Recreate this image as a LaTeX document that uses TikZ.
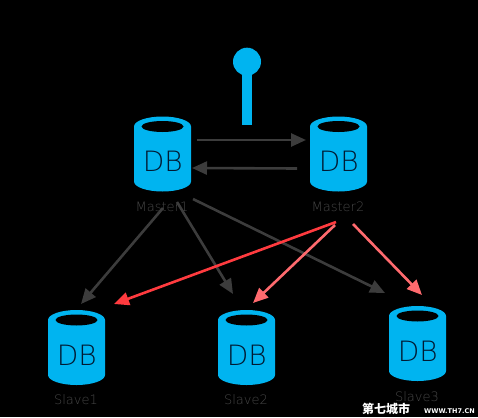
\documentclass[tikz,border=0pt]{standalone}
\usepackage{fontspec}
\setmainfont{DejaVu Sans}
\newfontfamily\cjkwm{Noto Sans CJK SC}
\newfontfamily\wmlatin{DejaVu Sans}
\newfontfamily\dbfont{DejaVu Sans ExtraLight}
\usetikzlibrary{arrows.meta}
\definecolor{dbblue}{HTML}{00B4F0}
\definecolor{dbtext}{HTML}{001A33}
\definecolor{linkgray}{HTML}{3C3C3C}
\definecolor{labelgray}{HTML}{464646}
\definecolor{redstrong}{HTML}{FF3B3F}
\definecolor{redsoft}{HTML}{FF6A6E}
\tikzset{
  x=1pt,y=-1pt,
  dbshape/.style={minimum width=57pt,minimum height=75pt,inner sep=0pt},
  dbword/.style={text=dbtext,font=\dbfont\fontsize{28}{28}\selectfont,inner sep=0pt},
  dblabel/.style={text=labelgray,font=\dbfont\fontsize{13}{13}\selectfont,inner sep=0pt},
  link/.style={draw=linkgray,line width=2.6pt,-{Triangle[length=15pt,width=13pt]}},
  linkred/.style={draw=redstrong,line width=2.6pt,-{Triangle[length=15pt,width=13pt]}},
  linksoft/.style={draw=redsoft,line width=2.6pt,-{Triangle[length=15pt,width=13pt]}},
}
% #1 = name, #2 = centre x, #3 = centre y
\newcommand{\dbcyl}[3]{%
  \fill[dbblue] (#2-28.5,#3-27.5) arc[start angle=180,end angle=360,x radius=28.5,y radius=10]
     -- (#2+28.5,#3+27.5) arc[start angle=0,end angle=180,x radius=28.5,y radius=10] -- cycle;
  \fill[black] (#2,#3-27.5) ellipse[x radius=21,y radius=5.5];
  \node[dbshape] (#1) at (#2,#3) {};
  \node[dbword] (#1t) at (#2+0.3,#3+7.5) {DB};
}
\begin{document}
\begin{tikzpicture}
\useasboundingbox (0,0) rectangle (478,417);
\fill[black] (0,0) rectangle (478,417);
% pin
\fill[dbblue] (242,62) rectangle (252,125);
\fill[dbblue] (247,61.7) circle[radius=14];
% cylinders
\dbcyl{mA}{162.5}{154}
\dbcyl{mB}{338.5}{154}
\dbcyl{sA}{76.5}{347.5}
\dbcyl{sB}{246.5}{347.5}
\dbcyl{sC}{417.5}{343.5}
% labels
\node[dblabel] (lmA) at (162,206.5) {Master1};
\node[dblabel] (lmB) at (338,206.5) {Master2};
\node[dblabel] (lsA) at (76,400) {Slave1};
\node[dblabel] (lsB) at (246,400) {Slave2};
\node[dblabel] (lsC) at (417,396.5) {Slave3};
% connector ends
\coordinate (a1) at (197,140); \coordinate (a2) at (306,140);
\coordinate (b1) at (297,168.5); \coordinate (b2) at (192,168);
\coordinate (c1) at (163,208); \coordinate (c2) at (81,304);
\coordinate (d1) at (177,202); \coordinate (d2) at (233,294);
\coordinate (e1) at (193,199); \coordinate (e2) at (385,293);
\coordinate (f1) at (336,222); \coordinate (f2) at (114,304);
\coordinate (g1) at (335,225); \coordinate (g2) at (253,303);
\coordinate (h1) at (353,224); \coordinate (h2) at (422,295);
\draw[link] (a1) -- (a2);
\draw[link] (b1) -- (b2);
\draw[link] (c1) -- (c2);
\draw[link] (d1) -- (d2);
\draw[link] (e1) -- (e2);
\draw[linkred] (f1) -- (f2);
\draw[linksoft] (g1) -- (g2);
\draw[linksoft] (h1) -- (h2);
% watermark
\node[text=white,font=\cjkwm\bfseries\fontsize{12}{12}\selectfont,inner sep=0pt] (wmA) at (386,408.5) {第七城市};
\node[text=white,font=\wmlatin\bfseries\fontsize{6.5}{7}\selectfont,inner sep=0pt] (wmB) at (449.5,411) {WWW.TH7.CN};
\end{tikzpicture}
\end{document}
